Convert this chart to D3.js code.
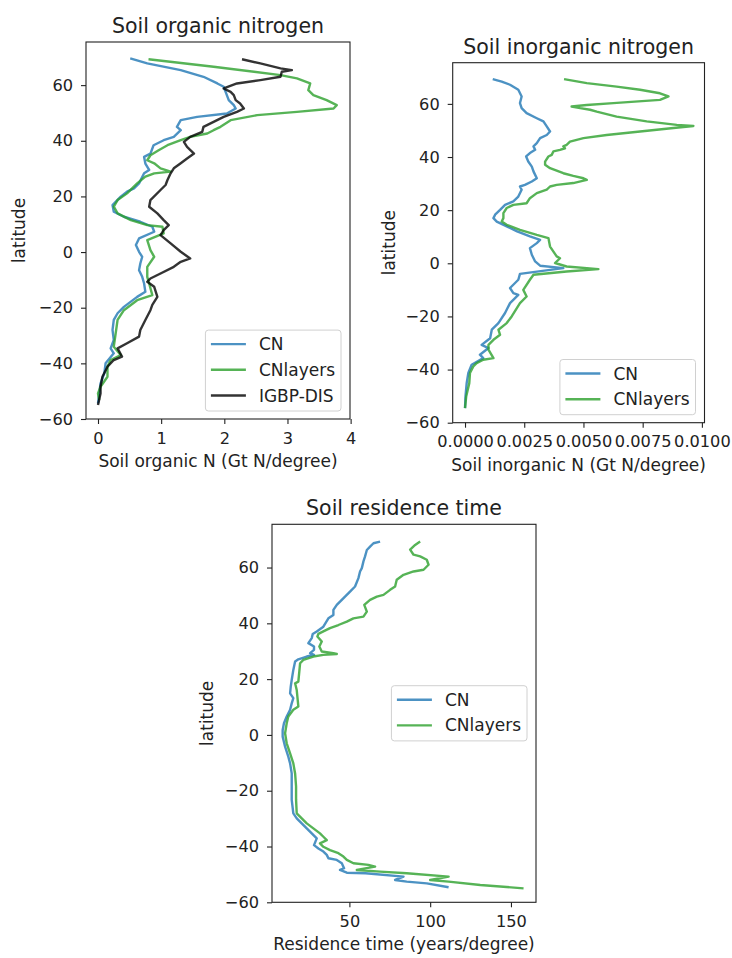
<!DOCTYPE html>
<html>
<head>
<meta charset="utf-8">
<script src="https://cdn.jsdelivr.net/npm/d3@7"></script>
<style>
body { margin: 0; background: #fff; }
text { font-family: "DejaVu Sans", sans-serif; fill: #222; }
</style>
</head>
<body>
<div id="chart"></div>
<script>
// [latitude, value] pairs
var orgCN = [[69.6,0.51],[67.8,0.78],[65.4,1.31],[63.0,1.67],[60.6,1.89],[59.4,1.99],[56.4,2.04],[54.6,2.07],[52.8,2.15],[51.6,2.18],[49.8,2.04],[48.6,1.57],[47.4,1.31],[45.0,1.25],[43.8,1.31],[41.4,1.20],[40.2,1.04],[38.4,0.88],[35.4,0.83],[34.2,0.73],[31.8,0.75],[29.5,0.81],[28.3,0.73],[24.7,0.65],[22.9,0.57],[21.7,0.46],[19.9,0.36],[16.9,0.23],[14.5,0.25],[12.7,0.41],[10.9,0.67],[9.1,0.86],[7.3,0.89],[4.9,0.65],[2.5,0.60],[0.1,0.65],[-1.7,0.70],[-4.1,0.67],[-6.5,0.65],[-8.9,0.70],[-11.3,0.73],[-14.3,0.75],[-16.1,0.62],[-19.7,0.41],[-22.0,0.31],[-24.4,0.25],[-28.0,0.23],[-31.6,0.25],[-34.6,0.20],[-36.4,0.25],[-40.0,0.12],[-43.6,0.10],[-47.2,0.04],[-50.8,0.02],[-54.4,0.0]];
var orgCNl = [[69.3,0.80],[66.6,1.83],[63.6,2.89],[62.4,3.15],[60.6,3.36],[58.2,3.33],[56.4,3.41],[54.6,3.62],[52.8,3.78],[51.6,3.73],[50.4,3.15],[49.2,2.52],[47.4,2.10],[45.0,1.94],[43.8,1.83],[42.6,1.73],[41.4,1.46],[40.2,1.31],[38.4,1.10],[36.6,0.96],[34.8,0.83],[33.0,0.78],[31.9,0.89],[30.1,0.99],[28.9,1.15],[28.3,0.89],[27.1,0.75],[24.7,0.62],[21.1,0.46],[18.7,0.31],[16.3,0.25],[13.9,0.31],[11.5,0.52],[9.7,0.78],[9.1,1.02],[6.7,1.04],[4.3,0.78],[0.7,0.83],[-1.7,0.89],[-5.3,0.78],[-8.9,0.78],[-11.3,0.81],[-15.5,0.86],[-17.3,0.62],[-20.9,0.41],[-24.4,0.31],[-29.2,0.28],[-34.0,0.25],[-37.0,0.36],[-38.8,0.20],[-41.2,0.15],[-44.8,0.15],[-48.4,0.04],[-50.8,0.0],[-53.2,0.02]];
var orgIGBP = [[69.3,2.28],[67.8,2.57],[66.0,2.89],[65.4,3.07],[64.8,2.91],[63.0,2.89],[61.8,2.57],[60.6,2.20],[58.8,1.99],[57.6,2.10],[56.4,2.15],[54.6,2.18],[53.4,2.25],[51.6,2.31],[50.4,2.20],[48.6,1.99],[46.8,1.83],[45.0,1.67],[43.2,1.65],[41.4,1.46],[39.6,1.36],[37.8,1.41],[35.4,1.52],[33.6,1.41],[31.9,1.31],[30.1,1.20],[28.3,1.15],[25.9,1.10],[24.1,1.07],[22.3,0.99],[18.7,0.83],[16.3,0.81],[13.9,0.94],[11.5,1.04],[9.7,1.12],[7.9,1.04],[6.1,0.99],[3.1,1.15],[0.1,1.31],[-2.3,1.46],[-3.5,1.31],[-5.3,1.20],[-7.7,0.99],[-9.5,0.83],[-10.7,0.78],[-12.5,0.89],[-16.1,0.94],[-19.0,0.86],[-20.9,0.83],[-24.4,0.75],[-28.0,0.67],[-30.4,0.65],[-32.8,0.46],[-34.6,0.31],[-37.6,0.38],[-38.8,0.25],[-41.2,0.15],[-44.8,0.07],[-48.4,0.04],[-50.8,0.04],[-55.0,0.0]];

var inoCN = [[69.3,0.00117],[68.4,0.00155],[67.2,0.00190],[65.3,0.00225],[62.8,0.00239],[60.3,0.00232],[58.4,0.00239],[56.5,0.00260],[54.6,0.00303],[53.4,0.00331],[51.5,0.00345],[49.6,0.00359],[48.3,0.00345],[47.1,0.00317],[45.2,0.00303],[44.0,0.00289],[42.7,0.00296],[41.5,0.00274],[40.2,0.00258],[38.3,0.00267],[36.4,0.00282],[34.6,0.00289],[32.0,0.00303],[30.8,0.00282],[29.5,0.00253],[28.9,0.00232],[27.7,0.00239],[25.1,0.00225],[23.3,0.00204],[22.0,0.00169],[20.1,0.00148],[18.3,0.00127],[17.0,0.00120],[15.7,0.00134],[13.9,0.00176],[12.0,0.00220],[10.1,0.00274],[8.8,0.00317],[7.6,0.00303],[5.7,0.00274],[3.2,0.00282],[0.7,0.00296],[-0.9,0.00317],[-1.8,0.00415],[-4.0,0.00232],[-6.2,0.00225],[-9.3,0.00190],[-11.2,0.00204],[-11.9,0.00225],[-15.0,0.00190],[-18.7,0.00169],[-22.5,0.00141],[-25.0,0.00113],[-28.2,0.00106],[-30.7,0.00070],[-31.9,0.00099],[-34.4,0.00063],[-35.7,0.00077],[-38.2,0.00028],[-41.3,0.00014],[-45.1,0.00007],[-50.1,0.00002],[-54.5,0.0]];
var inoCNl = [[69.3,0.00418],[67.8,0.00514],[66.5,0.00640],[65.3,0.00739],[64.0,0.00823],[62.8,0.00859],[61.5,0.00823],[60.3,0.00626],[59.6,0.00514],[59.0,0.00450],[58.4,0.00486],[57.8,0.00528],[57.1,0.00556],[55.2,0.00640],[53.4,0.00767],[52.1,0.00894],[51.7,0.00964],[50.9,0.00880],[49.6,0.00739],[48.3,0.00598],[47.1,0.00500],[45.8,0.00443],[44.6,0.00429],[44.0,0.00415],[43.3,0.00422],[42.7,0.00401],[42.1,0.00373],[40.8,0.00366],[40.2,0.00352],[38.3,0.00338],[37.1,0.00338],[35.8,0.00359],[33.9,0.00415],[32.9,0.00457],[32.0,0.00500],[31.4,0.00514],[30.2,0.00457],[29.5,0.00387],[28.9,0.00359],[27.7,0.00345],[26.4,0.00303],[24.5,0.00274],[22.6,0.00260],[22.0,0.00204],[20.8,0.00176],[18.9,0.00162],[17.0,0.00162],[15.7,0.00155],[14.5,0.00176],[12.6,0.00232],[10.7,0.00303],[9.5,0.00352],[6.3,0.00359],[2.6,0.00387],[1.9,0.00401],[0.1,0.00380],[-1.2,0.00429],[-2.2,0.00563],[-3.1,0.00429],[-4.3,0.00289],[-6.2,0.00274],[-10.0,0.00246],[-12.5,0.00260],[-15.0,0.00232],[-20.0,0.00197],[-22.5,0.00176],[-25.0,0.00141],[-26.9,0.00148],[-28.8,0.00120],[-30.7,0.00099],[-32.5,0.00099],[-35.7,0.00120],[-36.3,0.00077],[-37.6,0.00049],[-38.8,0.00035],[-41.3,0.00021],[-45.1,0.00018],[-50.1,0.00005],[-54.5,0.0]];

var resCN = [[69.3,69.0],[68.7,64.9],[67.5,62.8],[66.3,60.8],[64.0,59.7],[62.2,58.7],[59.8,57.7],[58.6,56.6],[56.2,55.6],[53.2,53.5],[51.4,50.4],[49.6,47.3],[48.4,45.3],[46.6,42.2],[44.8,40.1],[43.0,40.1],[41.8,37.0],[38.8,33.9],[37.1,29.8],[36.2,27.3],[34.7,26.7],[32.9,24.6],[31.7,28.1],[30.5,28.1],[29.3,25.7],[28.7,28.1],[28.1,23.6],[27.1,18.4],[26.3,16.4],[23.3,15.3],[19.7,14.3],[17.3,13.7],[14.9,13.3],[13.2,15.3],[11.3,14.3],[9.0,13.3],[6.6,11.2],[4.2,9.5],[1.8,8.7],[-0.6,8.7],[-4.2,10.2],[-7.8,12.2],[-10.2,13.3],[-13.8,14.3],[-18.5,14.3],[-23.3,14.3],[-28.1,15.3],[-29.9,17.4],[-31.7,20.5],[-33.5,23.6],[-35.3,26.7],[-37.1,29.8],[-39.5,28.1],[-40.7,30.8],[-41.8,33.9],[-43.0,36.0],[-44.2,37.0],[-44.8,42.2],[-46.0,45.3],[-47.8,46.7],[-48.4,44.2],[-49.4,48.4],[-49.6,60.0],[-50.8,83.5],[-52.0,78.3],[-52.6,85.5],[-53.2,97.9],[-54.6,111.4]];
var resCNl = [[69.3,93.8],[68.1,90.7],[66.4,87.6],[64.6,89.7],[64.0,93.8],[62.8,97.9],[61.0,99.0],[59.2,95.9],[58.6,89.7],[57.4,83.5],[55.6,79.3],[53.2,78.3],[52.0,75.2],[50.2,71.1],[49.6,67.0],[48.4,62.8],[46.6,59.2],[44.2,60.8],[42.4,58.7],[41.8,52.5],[40.6,48.4],[39.4,43.2],[38.3,38.0],[37.1,33.9],[36.2,30.8],[35.3,30.2],[33.5,32.9],[31.7,31.4],[29.9,32.9],[29.3,40.1],[29.0,42.2],[28.7,33.9],[28.1,27.7],[26.9,21.5],[25.7,19.5],[22.7,19.0],[19.1,18.4],[18.5,16.4],[16.1,17.4],[10.2,18.4],[9.0,15.3],[6.6,12.2],[4.2,11.2],[0.6,10.2],[-3.0,11.2],[-6.6,13.3],[-10.2,15.3],[-13.8,16.4],[-18.5,17.0],[-23.3,17.0],[-28.1,17.4],[-29.9,20.5],[-31.7,23.6],[-33.5,27.7],[-35.3,31.8],[-36.5,33.9],[-37.7,36.0],[-38.9,31.8],[-40.1,33.9],[-41.3,38.0],[-42.4,43.2],[-43.6,46.3],[-44.8,48.4],[-46.0,52.5],[-46.6,61.8],[-47.2,65.9],[-48.4,54.6],[-49.0,69.0],[-49.6,85.5],[-50.8,111.4],[-52.0,100.0],[-52.6,111.4],[-53.8,131.0],[-55.0,157.8]];

var latTicks = [-60, -40, -20, 0, 20, 40, 60];
var orgTicks = [0, 1, 2, 3, 4];
var inoTicks = [0, 0.0025, 0.005, 0.0075, 0.01];
var resTicks = [50, 100, 150];
var seriesNames = ["CN", "CNlayers", "IGBP-DIS"];
var seriesColors = ["#1f77b4", "#2ca02c", "#000000"];

var W = 732, H = 958;
var svg = d3.select("#chart").append("svg").attr("width", W).attr("height", H);

function panel(p) {
  var x = d3.scaleLinear().domain(p.xDomain).range([p.left, p.right]);
  var y = d3.scaleLinear().domain([-60, 75.5]).range([p.bottom, p.top]);
  var g = svg.append("g");

  var line = d3.line()
      .x(function (d) { return x(d[1]); })
      .y(function (d) { return y(d[0]); });

  p.series.forEach(function (s, i) {
    g.append("path")
      .datum(s)
      .attr("d", line)
      .attr("fill", "none")
      .attr("stroke", seriesColors[i])
      .attr("stroke-opacity", 0.8)
      .attr("stroke-width", 2.4)
      .attr("stroke-linejoin", "round");
  });

  var xa = g.append("g")
      .attr("transform", "translate(0," + p.bottom + ")")
      .call(d3.axisBottom(x).tickValues(p.xTicks).tickFormat(p.xFormat).tickSize(5).tickPadding(8));
  var ya = g.append("g")
      .attr("transform", "translate(" + p.left + ",0)")
      .call(d3.axisLeft(y).tickValues(latTicks).tickFormat(d3.format("d")).tickSize(5).tickPadding(8));
  [xa, ya].forEach(function (a) {
    a.select(".domain").remove();
    a.attr("font-size", 16.2).attr("font-family", "DejaVu Sans");
    a.selectAll(".tick line").attr("stroke", "#222").attr("stroke-width", 1.1);
  });

  g.append("rect")
    .attr("x", p.left).attr("y", p.top)
    .attr("width", p.right - p.left).attr("height", p.bottom - p.top)
    .attr("fill", "none").attr("stroke", "#222").attr("stroke-width", 1.1);

  g.append("text")
    .attr("x", (p.left + p.right) / 2).attr("y", p.top - 9)
    .attr("text-anchor", "middle").attr("font-size", 20.5)
    .text(p.title);
  g.append("text")
    .attr("x", (p.left + p.right) / 2).attr("y", p.bottom + 48)
    .attr("text-anchor", "middle").attr("font-size", 17)
    .text(p.xLabel);
  g.append("text")
    .attr("transform", "translate(" + p.yLabelX + "," + (p.top + p.bottom) / 2 + ") rotate(-90)")
    .attr("text-anchor", "middle").attr("font-size", 17)
    .text("latitude");

  // legend
  var n = p.series.length, step = 25.7;
  var lg = g.append("g");
  var box = lg.append("rect");
  var texts = [];
  for (var i = 0; i < n; i++) {
    texts.push(lg.append("text").attr("font-size", 17).text(seriesNames[i]));
  }
  var tw = d3.max(texts, function (t) { return t.node().getComputedTextLength(); });
  var bw = 5.5 + 35 + 13 + tw + 6;
  var bh = 14 + (n - 1) * step + 15.5;
  var bx = p.right - 9 - bw;
  var by = p.legendMid ? (p.top + p.bottom) / 2 - bh / 2 : p.bottom - 8 - bh;
  box.attr("x", bx).attr("y", by).attr("width", bw).attr("height", bh)
    .attr("rx", 3).attr("fill", "#fff").attr("fill-opacity", 0.8)
    .attr("stroke", "#d0d0d0").attr("stroke-width", 1);
  for (var j = 0; j < n; j++) {
    var ly = by + 14 + j * step;
    lg.append("line")
      .attr("x1", bx + 5.5).attr("x2", bx + 40.5).attr("y1", ly).attr("y2", ly)
      .attr("stroke", seriesColors[j]).attr("stroke-opacity", 0.8).attr("stroke-width", 2.4);
    texts[j].attr("x", bx + 53.5).attr("y", ly + 6);
  }
}

panel({
  left: 86, right: 350, top: 42, bottom: 419,
  xDomain: [-0.19, 3.99], xTicks: orgTicks, xFormat: d3.format("d"),
  title: "Soil organic nitrogen", xLabel: "Soil organic N (Gt N/degree)",
  yLabelX: 25, series: [orgCN, orgCNl, orgIGBP]
});
panel({
  left: 452.7, right: 704.5, top: 62.7, bottom: 422.7,
  xDomain: [-0.00052, 0.01011], xTicks: inoTicks, xFormat: d3.format(".4f"),
  title: "Soil inorganic nitrogen", xLabel: "Soil inorganic N (Gt N/degree)",
  yLabelX: 395, series: [inoCN, inoCNl]
});
panel({
  left: 272, right: 536, top: 524.3, bottom: 902.3,
  xDomain: [2.1, 165.5], xTicks: resTicks, xFormat: d3.format("d"),
  title: "Soil residence time", xLabel: "Residence time (years/degree)",
  yLabelX: 212.7, series: [resCN, resCNl], legendMid: true
});
</script>
</body>
</html>
